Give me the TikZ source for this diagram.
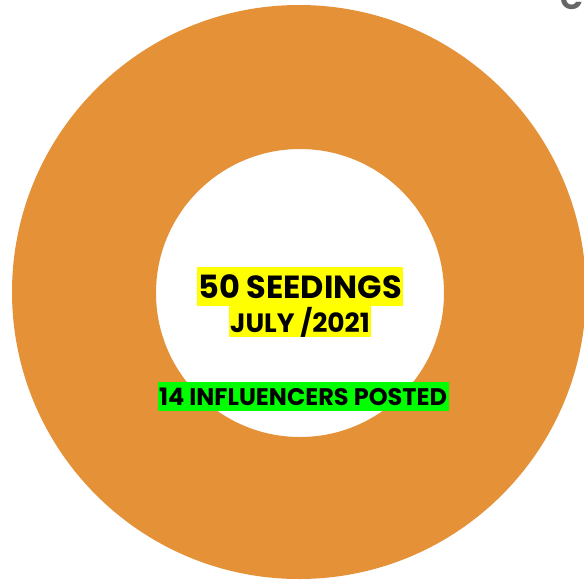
\documentclass[tikz,border=0pt]{standalone}
\usepackage{fontspec}
\setmainfont{Poppins}
\usetikzlibrary{positioning}
\definecolor{ringorange}{HTML}{E59138}
\definecolor{markyellow}{HTML}{FFFF00}
\definecolor{markgreen}{HTML}{00FF00}
\tikzset{
  labelbox/.style={inner xsep=1.5pt,inner ysep=0pt,font=\bfseries,text=black}
}
\begin{document}
\begin{tikzpicture}[x=1pt,y=-1pt]
 \useasboundingbox (0,0) rectangle (584,579);

 %Coordinates
 \coordinate (center) at (299,292);

 %Ring
 \fill[ringorange,even odd rule] (center) circle[radius=287] (300,293) circle[radius=144];

 %Corner letter
 \node (corner) [anchor=base,text=black!60,font=\bfseries\fontsize{30}{30}\selectfont] at (572,9) {C};

 %Name
 \node (title) [labelbox,fill=markyellow,minimum height=39pt,font=\bfseries\fontsize{32}{32}\selectfont] at (300,286.5) {50 SEEDINGS};
 \node (month) [labelbox,fill=markyellow,minimum height=31pt,font=\bfseries\fontsize{26.5}{26.5}\selectfont,below=0pt of title] {JULY /2021};
 \node (posted) [labelbox,fill=markgreen,minimum height=29pt,font=\bfseries\fontsize{24}{24}\selectfont] at (303,396.5) {14 INFLUENCERS POSTED};

\end{tikzpicture}
\end{document}
